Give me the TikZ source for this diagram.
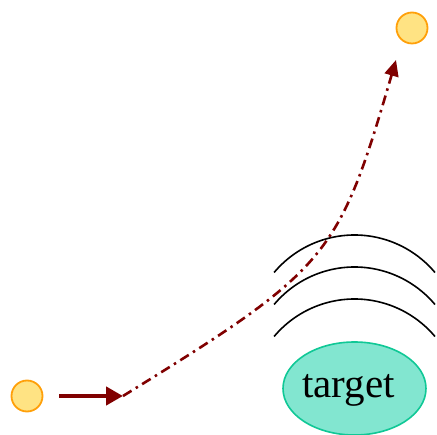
\documentclass[tikz,border=0pt]{standalone}
\usepackage{fontspec}
\setmainfont{Liberation Serif}
\usetikzlibrary{arrows.meta,shapes.geometric}
\definecolor{dotfill}{HTML}{FFE383}
\definecolor{dotedge}{HTML}{FFA00A}
\definecolor{darkred}{HTML}{800000}
\definecolor{tgfill}{HTML}{82E6D0}
\definecolor{tgedge}{HTML}{10C896}
\tikzset{
  dotnode/.style={circle,draw=dotedge,fill=dotfill,line width=1.8pt,minimum size=31pt,inner sep=0pt},
  wave/.style={draw=black,line width=1.6pt},
  tgnode/.style={ellipse,draw=tgedge,fill=tgfill,line width=1.6pt,minimum width=143pt,minimum height=93pt,inner sep=0pt},
  push/.style={draw=darkred,line width=4.5pt,-{Triangle[length=17pt,width=18pt]}},
  flight/.style={draw=darkred,line width=2.6pt,dash pattern=on 10pt off 5pt on 2.5pt off 5pt,-{Triangle[length=16pt,width=14pt]}}
}
\begin{document}
\begin{tikzpicture}[x=1pt,y=-1pt]
\useasboundingbox (0,0) rectangle (437,435);
\node[dotnode] (a) at (27,396) {};
\node[dotnode] (b) at (412,28) {};
\node[tgnode] (tg) at (354.5,388.5) {};
\node[anchor=base,font=\fontsize{41}{41}\selectfont,inner sep=0pt] (tgl) at (348.5,398) {target};
\coordinate (s) at (59,396);
\coordinate (m) at (123,396);
\coordinate (e) at (396,60);
\coordinate (w1) at (274.1,272.5);
\coordinate (w2) at (274.1,304.5);
\coordinate (w3) at (274.1,336.5);
\draw[wave] (w1) arc[start angle=220,end angle=320,radius=105];
\draw[wave] (w2) arc[start angle=220,end angle=320,radius=105];
\draw[wave] (w3) arc[start angle=220,end angle=320,radius=105];
\draw[push] (s) -- (m);
\draw[flight] (m) .. controls (330,268) and (338,258) .. (e);
\end{tikzpicture}
\end{document}
